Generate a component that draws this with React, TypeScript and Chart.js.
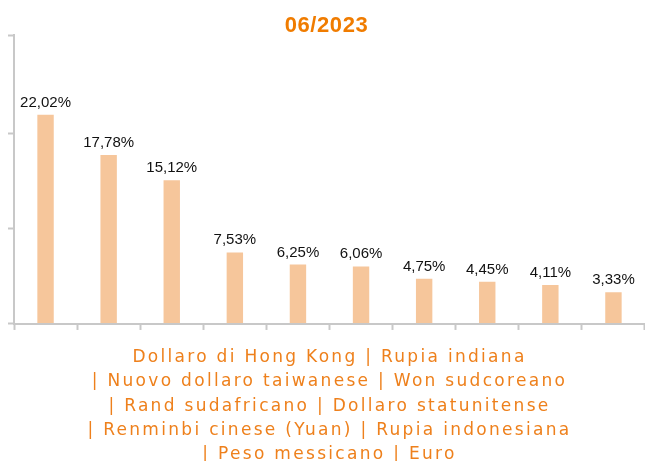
import React, { useEffect, useRef } from "react";
import { Chart, registerables } from "chart.js";

Chart.register(...registerables);

const chartTitle = "06/2023";
const categories = [
  "Dollaro di Hong Kong",
  "Rupia indiana",
  "Nuovo dollaro taiwanese",
  "Won sudcoreano",
  "Rand sudafricano",
  "Dollaro statunitense",
  "Renminbi cinese (Yuan)",
  "Rupia indonesiana",
  "Peso messicano",
  "Euro",
];
const values = [22.02, 17.78, 15.12, 7.53, 6.25, 6.06, 4.75, 4.45, 4.11, 3.33];
const axisTitleLines = [
  "Dollaro di Hong Kong | Rupia indiana",
  "| Nuovo dollaro taiwanese | Won sudcoreano",
  "| Rand sudafricano | Dollaro statunitense",
  "| Renminbi cinese (Yuan) | Rupia indonesiana",
  "| Peso messicano | Euro",
];
const yMax = 30.4;
const yStep = 10;

const fmt = (v: number) => v.toFixed(2).replace(".", ",") + "%";

const spacingPlugin = {
  id: "spacing",
  beforeDraw(chart: any) {
    chart.ctx.letterSpacing = "0.6px";
  },
  beforeDatasetsDraw(chart: any) {
    chart.ctx.letterSpacing = "0px";
  },
  afterDraw(chart: any) {
    chart.ctx.letterSpacing = "0px";
  },
};

const labelPlugin = {
  id: "valueLabels",
  afterDatasetsDraw(chart: any) {
    const ctx = chart.ctx;
    const meta = chart.getDatasetMeta(0);
    ctx.save();
    ctx.letterSpacing = "0px";
    ctx.font = "15px 'Liberation Sans', Arial, sans-serif";
    ctx.fillStyle = "#111111";
    ctx.textAlign = "center";
    ctx.textBaseline = "alphabetic";
    meta.data.forEach((bar: any, i: number) => {
      ctx.fillText(fmt(values[i]), bar.x, bar.y - 8);
    });
    ctx.restore();
    // spacing for the x-axis title, drawn after the datasets
    ctx.letterSpacing = "2.3px";
  },
};

export default function App() {
  const ref = useRef<HTMLCanvasElement>(null);
  useEffect(() => {
    if (!ref.current) return;
    const chart = new Chart(ref.current, {
      type: "bar",
      data: {
        labels: categories,
        datasets: [
          {
            data: values,
            backgroundColor: "#F6C69B",
            borderWidth: 0,
            barPercentage: 0.26,
            categoryPercentage: 1,
          },
        ],
      },
      options: {
        responsive: false,
        animation: false,
        layout: { padding: { left: 8, right: 0, top: 0, bottom: 0 } },
        plugins: {
          legend: { display: false },
          tooltip: { enabled: false },
          title: {
            display: true,
            text: chartTitle,
            color: "#F07C00",
            font: { family: "'Liberation Sans', Arial, sans-serif", size: 22, weight: "bold", lineHeight: 1.1 },
            padding: { top: 14, bottom: -3 },
          },
        },
        scales: {
          x: {
            grid: {
              display: true,
              drawOnChartArea: false,
              drawTicks: true,
              tickLength: 6,
              tickWidth: 2,
              tickColor: "#C8C8C8",
              offset: true,
              z: 1,
            },
            border: { display: true, color: "#C8C8C8", width: 2, z: 1 },
            ticks: { display: false, z: 1 },
            title: {
              display: true,
              text: axisTitleLines,
              color: "#EE801C",
              font: { family: "'DejaVu Sans', Verdana, sans-serif", size: 17, lineHeight: 1.43 },
              padding: { top: 15.5, bottom: -6 },
            },
          },
          y: {
            min: 0,
            max: yMax,
            grid: {
              display: true,
              drawOnChartArea: false,
              drawTicks: true,
              tickLength: 6,
              tickWidth: 2,
              tickColor: "#C8C8C8",
            },
            border: { display: true, color: "#C8C8C8", width: 2 },
            ticks: { display: false, stepSize: yStep },
          },
        },
      },
      plugins: [spacingPlugin, labelPlugin],
    } as any);
    return () => chart.destroy();
  }, []);
  return (
    <div style={{ position: "absolute", left: 0, top: 0, width: 645, height: 461, background: "#fff" }}>
      <canvas ref={ref} width={645} height={461} />
    </div>
  );
}
